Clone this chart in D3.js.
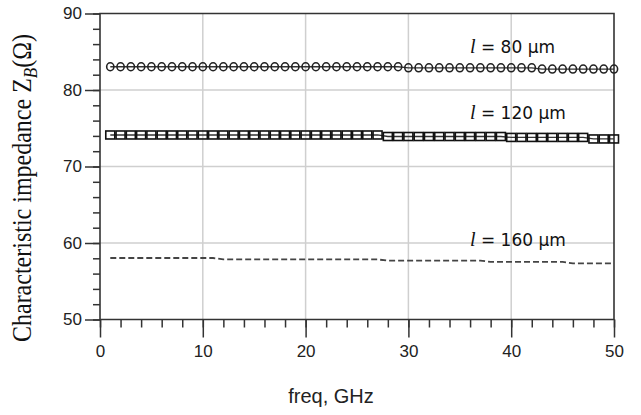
<!DOCTYPE html>
<html><head><meta charset="utf-8">
<script src="https://cdn.jsdelivr.net/npm/d3@7"></script>
<style>html,body{margin:0;padding:0;background:#fff;}svg{display:block;}</style>
</head><body>
<svg id="chart" width="641" height="415"></svg>
<script>
const freq = [1,2,3,4,5,6,7,8,9,10,11,12,13,14,15,16,17,18,19,20,21,22,23,24,25,26,27,28,29,30,31,32,33,34,35,36,37,38,39,40,41,42,43,44,45,46,47,48,49,50];
const z80 = [83.04,83.04,83.04,83.04,83.04,83.04,83.04,83.04,83.04,83.04,83.04,83.04,83.04,83.04,83.04,83.04,83.04,83.04,83.04,83.04,83.04,83.04,83.04,83.04,83.04,83.04,83.04,83.04,83.04,82.9,82.9,82.9,82.9,82.9,82.9,82.9,82.9,82.9,82.9,82.9,82.9,82.9,82.74,82.74,82.74,82.74,82.74,82.74,82.74,82.74];
const z120 = [74.12,74.12,74.12,74.12,74.12,74.12,74.12,74.12,74.12,74.12,74.12,74.12,74.12,74.12,74.12,74.12,74.12,74.12,74.12,74.12,74.12,74.12,74.12,74.12,74.12,74.12,74.12,73.92,73.92,73.92,73.92,73.92,73.92,73.92,73.92,73.92,73.92,73.92,73.92,73.8,73.8,73.8,73.8,73.8,73.8,73.8,73.8,73.6,73.6,73.6];
const z160 = [58.04,58.04,58.04,58.04,58.04,58.04,58.04,58.04,58.04,58.04,58.04,57.85,57.85,57.85,57.85,57.85,57.85,57.85,57.85,57.85,57.85,57.85,57.85,57.85,57.85,57.85,57.85,57.7,57.7,57.7,57.7,57.7,57.7,57.7,57.7,57.7,57.7,57.52,57.52,57.52,57.52,57.52,57.52,57.52,57.52,57.34,57.34,57.34,57.34,57.34];
const xMajor = [0,10,20,30,40,50];
const xMinor = [0,2,4,6,8,10,12,14,16,18,20,22,24,26,28,30,32,34,36,38,40,42,44,46,48,50];
const yMajor = [50,60,70,80,90];
const yMinor = [50,52,54,56,58,60,62,64,66,68,70,72,74,76,78,80,82,84,86,88,90];
const seriesLabels = ["80", "120", "160"];
const labelValues = [84.85, 76.15, 59.55];

const svg = d3.select("#chart");
const x = d3.scaleLinear().domain([0,50]).range([100,614]);
const y = d3.scaleLinear().domain([50,90]).range([319.5,13.5]);
const dark = "#333";

// grid
svg.append("g").selectAll("line").data(xMajor.slice(1,-1)).join("line")
  .attr("x1", d=>x(d)).attr("x2", d=>x(d)).attr("y1", y(90)).attr("y2", y(50))
  .attr("stroke", "#cfcfcf").attr("stroke-width", 1.5);
svg.append("g").selectAll("line").data(yMajor.slice(1,-1)).join("line")
  .attr("x1", x(0)).attr("x2", x(50)).attr("y1", d=>y(d)).attr("y2", d=>y(d))
  .attr("stroke", "#cfcfcf").attr("stroke-width", 1.5);

// axes
function styleAxis(g){
  g.select(".domain").remove();
  g.selectAll(".tick line").attr("stroke", dark).attr("stroke-width", 1.5);
  g.selectAll(".tick text").attr("fill", "#222").style("font-family","'Liberation Sans', Arial, sans-serif").style("font-size","17px");
}
svg.append("g").attr("transform", `translate(${x(0)},0)`)
  .call(d3.axisLeft(y).tickValues(yMinor).tickSize(7).tickFormat(""))
  .call(styleAxis);
svg.append("g").attr("transform", `translate(${x(0)},0)`)
  .call(d3.axisLeft(y).tickValues(yMajor).tickSize(15).tickPadding(3).tickFormat(d3.format("d")))
  .call(styleAxis);
svg.append("g").attr("transform", `translate(0,${y(50)})`)
  .call(d3.axisBottom(x).tickValues(xMinor).tickSize(8).tickFormat(""))
  .call(styleAxis);
svg.append("g").attr("transform", `translate(0,${y(50)})`)
  .call(d3.axisBottom(x).tickValues(xMajor).tickSize(18).tickPadding(7).tickFormat(d3.format("d")))
  .call(styleAxis);

// frame
svg.append("path")
  .attr("d", `M${x(0)},${y(50)}L${x(0)},${y(90)}L${x(50)},${y(90)}L${x(50)},${y(50)}Z`)
  .attr("fill","none").attr("stroke", dark).attr("stroke-width", 1.6);

// series
const line = d3.line().x((d,i)=>x(freq[i])).y(d=>y(d));
svg.append("path").datum(z80).attr("d", line).attr("fill","none").attr("stroke","#333").attr("stroke-width",1.3);
svg.append("g").selectAll("ellipse").data(z80).join("ellipse")
  .attr("cx",(d,i)=>x(freq[i])).attr("cy",d=>y(d)).attr("rx",3.6).attr("ry",4)
  .attr("fill","none").attr("stroke","#222").attr("stroke-width",1.6);

svg.append("path").datum(z120).attr("d", line).attr("fill","none").attr("stroke","#333").attr("stroke-width",1.3);
svg.append("g").selectAll("rect").data(z120).join("rect")
  .attr("x",(d,i)=>x(freq[i])-4.5).attr("y",d=>y(d)-4).attr("width",9).attr("height",8)
  .attr("fill","none").attr("stroke","#111").attr("stroke-width",1.6);

svg.append("path").datum(z160).attr("d", line).attr("fill","none").attr("stroke","#444")
  .attr("stroke-width",1.8).attr("stroke-dasharray","6,3");

// series labels
seriesLabels.forEach((s,i)=>{
  const t = svg.append("text").attr("x", 470).attr("y", y(labelValues[i]))
    .style("font-family","'DejaVu Sans', sans-serif").style("font-size","17px").attr("fill","#111");
  t.append("tspan").text("l").style("font-family","'Liberation Serif', serif").style("font-style","italic").style("font-size","20px");
  t.append("tspan").text(" = " + s + " µm");
});

// axis titles
svg.append("text").attr("x", 331).attr("y", 403).attr("text-anchor","middle")
  .style("font-family","'Liberation Sans', Arial, sans-serif").style("font-size","20px").attr("fill","#222")
  .text("freq, GHz");

const yt = svg.append("text").attr("transform","translate(31,188) scale(1.15,1) rotate(-90)")
  .attr("text-anchor","middle")
  .style("font-family","'Liberation Serif', 'Times New Roman', serif").style("font-size","24px").attr("fill","#111");
yt.append("tspan").text("Characteristic impedance Z");
yt.append("tspan").text("B").style("font-style","italic").style("font-size","17px").attr("dy","5");
yt.append("tspan").text("(Ω)").attr("dy","-5");
</script>
</body></html>
